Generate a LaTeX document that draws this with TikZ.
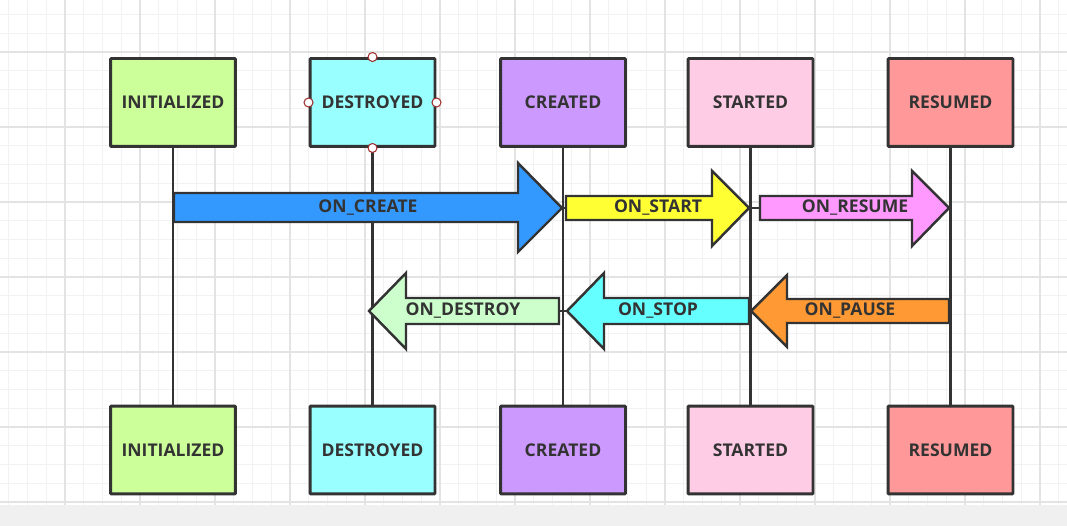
\documentclass[tikz,border=0pt]{standalone}
\usepackage{fontspec}
\setmainfont{Open Sans}
\definecolor{linec}{HTML}{333333}
\definecolor{gridminor}{HTML}{F2F2F2}
\definecolor{gridmajor}{HTML}{E3E3E3}
\definecolor{stripc}{HTML}{F0F0F0}
\definecolor{initc}{HTML}{CCFF99}
\definecolor{destc}{HTML}{99FFFF}
\definecolor{creac}{HTML}{CC99FF}
\definecolor{startc}{HTML}{FFCCE6}
\definecolor{resc}{HTML}{FF9999}
\definecolor{oncreatec}{HTML}{3399FF}
\definecolor{onstartc}{HTML}{FFFF33}
\definecolor{onresumec}{HTML}{FF99FF}
\definecolor{ondestroyc}{HTML}{CCFFCC}
\definecolor{onstopc}{HTML}{66FFFF}
\definecolor{onpausec}{HTML}{FF9933}
\definecolor{handlec}{HTML}{A03030}
\tikzset{
  state/.style={draw=linec, line width=1.7pt, rounded corners=0.5pt,
    minimum width=2.5cm, minimum height=1.76cm, inner sep=0pt,
    font=\fontsize{10}{12}\selectfont\bfseries, text=linec},
  life/.style={draw=linec, line width=1.6pt},
  blockarrow/.style={draw=linec, line width=1.4pt, line join=miter},
  lbl/.style={font=\fontsize{10}{12}\selectfont\bfseries, text=linec, inner sep=0pt},
  joint/.style={draw=linec, line width=0.9pt},
  handle/.style={draw=handlec, fill=white, line width=0.6pt}
}
\begin{document}
\begin{tikzpicture}[x=0.02cm,y=-0.02cm]
\useasboundingbox (0,0) rectangle (1067,526);
% grid paper
\foreach \i in {0,...,56}
  \draw [gridminor, line width=0.5pt] ({8.75+18.75*\i},0) -- ({8.75+18.75*\i},505);
\foreach \j in {0,...,26}
  \draw [gridminor, line width=0.5pt] (0,{14.5+18.75*\j}) -- (1067,{14.5+18.75*\j});
\foreach \i in {0,...,13}
  \draw [gridmajor, line width=0.6pt] ({65+75*\i},0) -- ({65+75*\i},505);
\foreach \j in {0,...,6}
  \draw [gridmajor, line width=0.6pt] (0,{52+75*\j}) -- (1067,{52+75*\j});
\fill [stripc] (0,505) rectangle (1067,526);
% states, top and bottom
\node [state, fill=initc]  (init1)  at (173,102.5) {INITIALIZED};
\node [state, fill=destc]  (dest1)  at (372.5,102.5) {DESTROYED};
\node [state, fill=creac]  (crea1)  at (563,102.5) {CREATED};
\node [state, fill=startc] (start1) at (750.5,102.5) {STARTED};
\node [state, fill=resc]   (res1)   at (950.5,102.5) {RESUMED};
\node [state, fill=initc]  (init2)  at (173,450) {INITIALIZED};
\node [state, fill=destc]  (dest2)  at (372.5,450) {DESTROYED};
\node [state, fill=creac]  (crea2)  at (563,450) {CREATED};
\node [state, fill=startc] (start2) at (750.5,450) {STARTED};
\node [state, fill=resc]   (res2)   at (950.5,450) {RESUMED};
% lifelines
\foreach \s in {init,dest,crea,start,res}
  \draw [life] (\s1) -- (\s2);
% forward transitions
\filldraw [blockarrow, fill=oncreatec] (174,193) -- (518,193) -- (518,163) -- (562,208)
  -- (518,252) -- (518,222) -- (174,222) -- cycle;
\node [lbl] (oncreate) at (368,208) {ON\_CREATE};
\filldraw [blockarrow, fill=onstartc] (566,196) -- (712,196) -- (712,171) -- (749,208)
  -- (712,246) -- (712,220) -- (566,220) -- cycle;
\node [lbl] (onstart) at (658,208) {ON\_START};
\filldraw [blockarrow, fill=onresumec] (760,196) -- (912,196) -- (912,171) -- (949,208)
  -- (912,246) -- (912,220) -- (760,220) -- cycle;
\node [lbl] (onresume) at (855,208) {ON\_RESUME};
\draw [joint] (562,208) -- (566,208) (749,208) -- (760,208);
% backward transitions
\filldraw [blockarrow, fill=ondestroyc] (559,298) -- (406,298) -- (406,273) -- (369,311)
  -- (406,349) -- (406,324) -- (559,324) -- cycle;
\node [lbl] (ondestroy) at (463,311) {ON\_DESTROY};
\filldraw [blockarrow, fill=onstopc] (749,298) -- (604,298) -- (604,273) -- (567,311)
  -- (604,349) -- (604,324) -- (749,324) -- cycle;
\node [lbl] (onstop) at (658,311) {ON\_STOP};
\filldraw [blockarrow, fill=onpausec] (949,299) -- (787,299) -- (787,275) -- (751,311)
  -- (787,347) -- (787,323) -- (949,323) -- cycle;
\node [lbl] (onpause) at (850,311) {ON\_PAUSE};
\draw [joint] (559,311) -- (567,311);
% selection handles
\foreach \a in {north,south,east,west}
  \filldraw [handle] (dest1.\a) circle (4.5);
\end{tikzpicture}
\end{document}
